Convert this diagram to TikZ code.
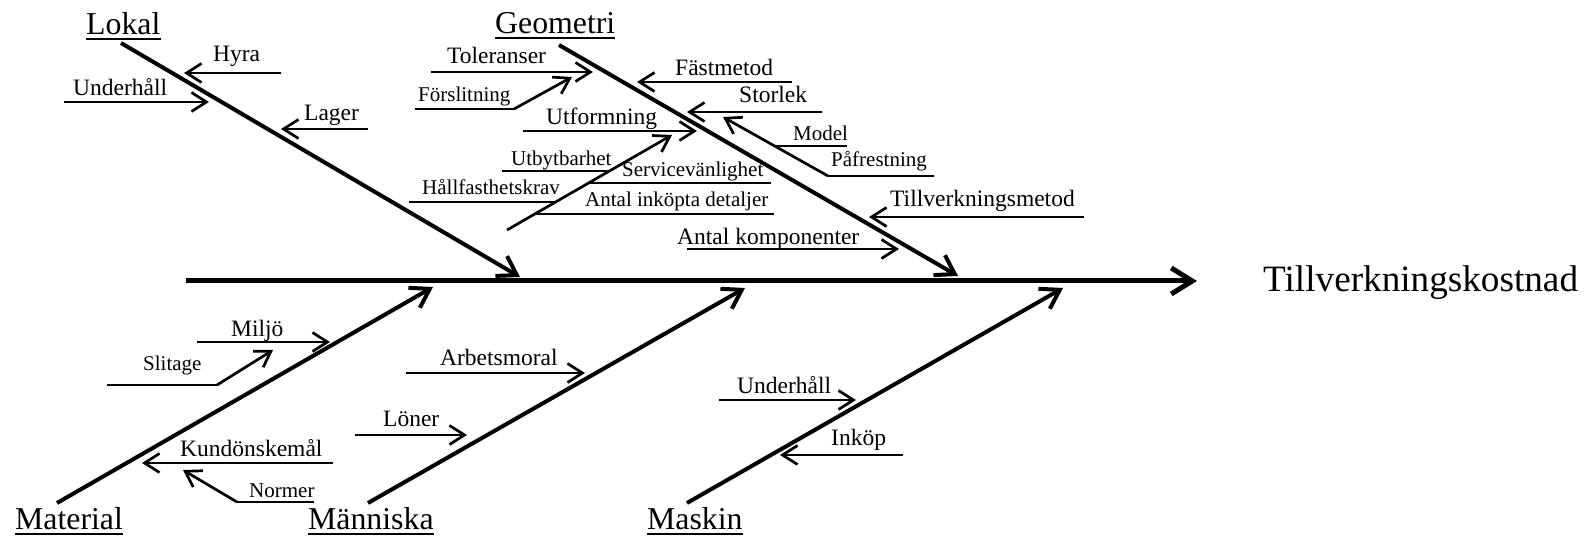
\documentclass[tikz,border=0pt]{standalone}
\usepackage{fontspec}
\setmainfont{Liberation Serif}
\usetikzlibrary{arrows.meta}

\begin{document}
\begin{tikzpicture}[x=1pt,y=-1pt,
  spine/.style={line width=5pt,-{Straight Barb[length=21pt,width=26pt]}},
  bone/.style={line width=4pt,-{Straight Barb[length=18pt,width=23pt]}},
  cause/.style={line width=2.7pt,-{Straight Barb[length=15pt,width=19pt]}},
  plain/.style={line width=2.7pt},
  leader/.style={line width=1.3pt},
  uline/.style={line width=2pt},
  effect/.style={font=\fontsize{37.2}{42}\selectfont,inner sep=0pt,anchor=base west},
  head/.style={font=\fontsize{31.8}{36}\selectfont,inner sep=0pt,anchor=base west},
  mid/.style={font=\fontsize{23.5}{27}\selectfont,inner sep=0pt,anchor=base west},
  sml/.style={font=\fontsize{21}{24}\selectfont,inner sep=0pt,anchor=base west}]
\useasboundingbox (0,0) rectangle (1590,537);

% ---- spine and effect ----
\coordinate (s0) at (186,281);
\coordinate (s1) at (1197,281);
\draw[spine] (s0) -- (s1);
\node[effect] (eff) at (1263,292) {Tillverkningskostnad};

% ---- main bones ----
\coordinate (lokA) at (121,43);   \coordinate (lokB) at (520,277);
\coordinate (geoA) at (559,45);   \coordinate (geoB) at (958,276);
\coordinate (matA) at (57,503);   \coordinate (matB) at (433,287);
\coordinate (manA) at (368,503);  \coordinate (manB) at (745,288);
\coordinate (masA) at (687,503);  \coordinate (masB) at (1063,288);
\draw[bone] (lokA) -- (lokB);
\draw[bone] (geoA) -- (geoB);
\draw[bone] (matA) -- (matB);
\draw[bone] (manA) -- (manB);
\draw[bone] (masA) -- (masB);

\node[head] (lokal) at (86,35) {Lokal};
\node[head] (geom) at (495,34) {Geometri};
\node[head] (mat) at (15,529) {Material};
\node[head] (man) at (308,529) {Människa};
\node[head] (mask) at (647,529) {Maskin};
\foreach \n in {lokal,geom,mat,man,mask}
  \draw[uline] ([yshift=-4.5pt]\n.base west) -- ([yshift=-4.5pt]\n.base east);

% ---- Lokal ----
\coordinate (hyA) at (281,73);  \coordinate (hyB) at (184,73);
\draw[cause] (hyA) -- (hyB);
\node[mid] (hyra) at (213,62) {Hyra};
\coordinate (uhA) at (64,102);  \coordinate (uhB) at (209,102);
\draw[cause] (uhA) -- (uhB);
\node[mid] (uh1) at (73,96) {Underhåll};
\coordinate (lgA) at (368,129); \coordinate (lgB) at (281,129);
\draw[cause] (lgA) -- (lgB);
\node[mid] (lager) at (304,121) {Lager};

% ---- Geometri, left side ----
\coordinate (tolA) at (431,72); \coordinate (tolB) at (593,72);
\draw[cause] (tolA) -- (tolB);
\node[mid] (tol) at (447,64) {Toleranser};

\coordinate (fsA) at (415,109); \coordinate (fsK) at (514,109); \coordinate (fsB) at (572,77);
\draw[leader] (fsA) -- (fsK);
\draw[cause] (fsK) -- (fsB);
\node[sml] (fors) at (418,102) {Förslitning};

\coordinate (utA) at (523,131); \coordinate (utB) at (697,131);
\draw[cause] (utA) -- (utB);
\node[mid] (utf) at (546,125) {Utformning};

\coordinate (dgA) at (507,230); \coordinate (dgB) at (672,135);
\draw[cause] (dgA) -- (dgB);
\coordinate (ubA) at (502,171); \coordinate (ubB) at (611,171);
\draw[leader] (ubA) -- (ubB);
\node[sml] (utb) at (511,166) {Utbytbarhet};
\coordinate (svA) at (589,183); \coordinate (svB) at (771,183);
\draw[leader] (svA) -- (svB);
\node[sml] (serv) at (622,177) {Servicevänlighet};
\coordinate (hfA) at (409,202); \coordinate (hfB) at (556,202);
\draw[leader] (hfA) -- (hfB);
\node[sml] (hall) at (422,195) {Hållfasthetskrav};
\coordinate (aiA) at (535,214); \coordinate (aiB) at (774,214);
\draw[leader] (aiA) -- (aiB);
\node[sml] (anti) at (585,207) {Antal inköpta detaljer};

% ---- Geometri, right side ----
\coordinate (fmA) at (792,82);  \coordinate (fmB) at (637,82);
\draw[cause] (fmA) -- (fmB);
\node[mid] (fast) at (675,76) {Fästmetod};
\coordinate (stA) at (822,112); \coordinate (stB) at (687,112);
\draw[cause] (stA) -- (stB);
\node[mid] (stor) at (739,103) {Storlek};

\coordinate (pfA) at (828,176); \coordinate (pfB) at (723,117);
\draw[cause] (pfA) -- (pfB);
\coordinate (mdA) at (775,146); \coordinate (mdB) at (847,146);
\draw[leader] (mdA) -- (mdB);
\node[sml] (model) at (793,141) {Model};
\coordinate (paA) at (828,176); \coordinate (paB) at (934,176);
\draw[leader] (paA) -- (paB);
\node[sml] (pafr) at (831,167) {Påfrestning};

\coordinate (tmA) at (1084,217); \coordinate (tmB) at (869,217);
\draw[cause] (tmA) -- (tmB);
\node[mid] (tvm) at (890,207) {Tillverkningsmetod};
\coordinate (akA) at (687,249); \coordinate (akB) at (899,249);
\draw[cause] (akA) -- (akB);
\node[mid] (akomp) at (677,245) {Antal komponenter};

% ---- Material ----
\coordinate (mjA) at (197,342); \coordinate (mjB) at (330,342);
\draw[cause] (mjA) -- (mjB);
\node[mid] (miljo) at (231,337) {Miljö};
\coordinate (slA) at (107,385); \coordinate (slK) at (217,385); \coordinate (slB) at (273,350);
\draw[leader] (slA) -- (slK);
\draw[cause] (slK) -- (slB);
\node[sml] (slit) at (143,370) {Slitage};
\coordinate (kuA) at (333,463); \coordinate (kuB) at (142,463);
\draw[cause] (kuA) -- (kuB);
\node[mid] (kund) at (180,456) {Kundönskemål};
\coordinate (noA) at (314,502); \coordinate (noK) at (237,502); \coordinate (noB) at (183,470);
\draw[leader] (noA) -- (noK);
\draw[cause] (noK) -- (noB);
\node[sml] (norm) at (249,497) {Normer};

% ---- Människa ----
\coordinate (amA) at (406,373); \coordinate (amB) at (585,373);
\draw[cause] (amA) -- (amB);
\node[mid] (arb) at (440,365) {Arbetsmoral};
\coordinate (loA) at (355,435); \coordinate (loB) at (467,435);
\draw[cause] (loA) -- (loB);
\node[mid] (lon) at (383,426) {Löner};

% ---- Maskin ----
\coordinate (u2A) at (719,400); \coordinate (u2B) at (856,400);
\draw[cause] (u2A) -- (u2B);
\node[mid] (uh2) at (737,393) {Underhåll};
\coordinate (ikA) at (903,455); \coordinate (ikB) at (780,455);
\draw[cause] (ikA) -- (ikB);
\node[mid] (inkop) at (831,445) {Inköp};
\end{tikzpicture}
\end{document}
